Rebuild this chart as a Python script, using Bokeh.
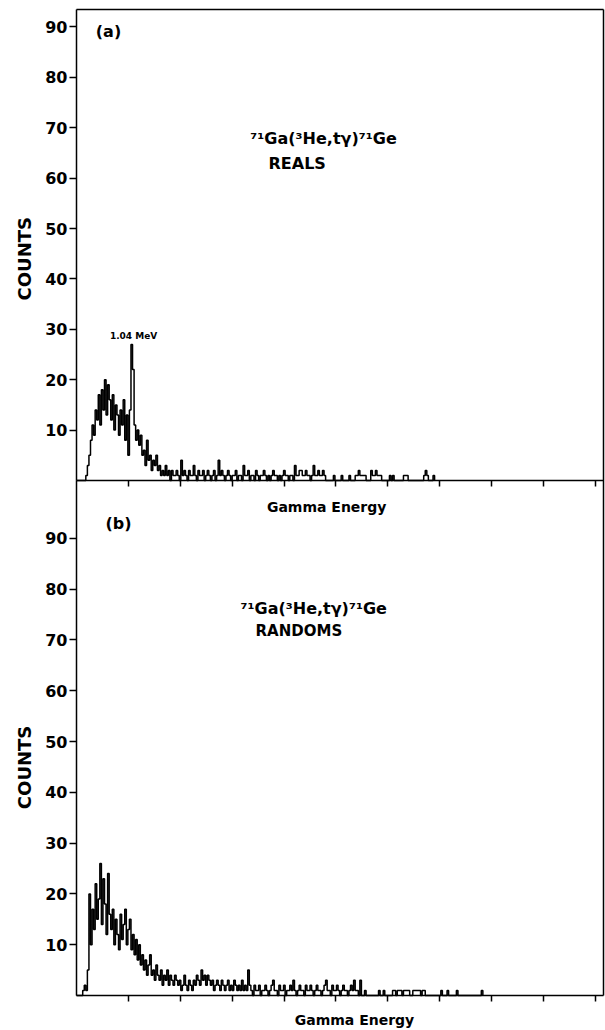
import math
import numpy as np
from bokeh.plotting import figure
from bokeh.models import Range1d, LinearAxis, FixedTicker, Label, ColumnDataSource
from bokeh.embed import file_html
from bokeh.resources import INLINE

# ---------------- data ----------------
BIN_WIDTH = 3  # channels per bin

reals_counts = [
    0, 0, 0, 0, 0, 0, 1, 3, 5, 8,
    11, 9, 14, 12, 17, 11, 18, 14, 20, 13,
    19, 16, 12, 17, 10, 15, 13, 9, 14, 11,
    16, 8, 13, 5, 14, 27, 22, 11, 8, 10,
    7, 9, 5, 6, 3, 8, 4, 5, 2, 4,
    3, 5, 2, 3, 1, 2, 1, 3, 1, 2,
    0, 2, 1, 1, 2, 1, 0, 4, 1, 2,
    1, 0, 2, 1, 1, 3, 1, 0, 2, 1,
    1, 2, 0, 1, 2, 1, 0, 1, 2, 0,
    1, 4, 1, 2, 1, 0, 1, 2, 1, 0,
    1, 1, 2, 0, 1, 1, 0, 3, 1, 1,
    2, 0, 1, 1, 0, 2, 1, 0, 1, 1,
    2, 1, 0, 1, 0, 1, 2, 1, 1, 0,
    1, 0, 1, 2, 1, 1, 0, 1, 1, 0,
    3, 1, 1, 2, 2, 1, 1, 2, 1, 1,
    0, 1, 3, 1, 1, 2, 1, 1, 2, 1,
    0, 0, 0, 0, 0, 1, 0, 0, 0, 0,
    1, 0, 0, 0, 0, 1, 0, 0, 0, 1,
    1, 2, 1, 1, 1, 1, 0, 0, 0, 2,
    1, 1, 2, 1, 1, 1, 0, 0, 0, 0,
    0, 1, 0, 1, 0, 0, 0, 0, 0, 0,
    1, 1, 1, 0, 0, 0, 0, 0, 0, 0,
    0, 0, 0, 1, 2, 1, 0, 0, 0, 1,
    0,
]

randoms_counts = [
    0, 0, 0, 0, 1, 2, 1, 5, 20, 10,
    17, 13, 22, 15, 19, 26, 14, 23, 18, 12,
    24, 16, 13, 17, 10, 15, 12, 9, 16, 11,
    14, 17, 10, 13, 15, 9, 12, 8, 11, 7,
    10, 6, 8, 5, 7, 4, 6, 8, 4, 5,
    3, 6, 4, 3, 5, 2, 4, 3, 5, 2,
    4, 3, 2, 4, 3, 2, 3, 1, 2, 4,
    2, 1, 3, 2, 1, 3, 2, 4, 3, 2,
    5, 3, 4, 2, 4, 3, 2, 3, 1, 2,
    3, 2, 1, 3, 2, 1, 2, 3, 1, 2,
    1, 3, 2, 1, 2, 1, 3, 1, 2, 1,
    5, 2, 1, 0, 2, 1, 1, 2, 0, 1,
    1, 2, 1, 0, 1, 2, 3, 1, 1, 0,
    2, 1, 1, 2, 0, 1, 1, 2, 1, 3,
    1, 0, 1, 2, 1, 1, 0, 2, 1, 1,
    2, 1, 0, 1, 2, 1, 1, 0, 1, 2,
    3, 1, 1, 0, 2, 1, 1, 2, 1, 0,
    1, 2, 1, 1, 0, 1, 2, 1, 3, 1,
    1, 0, 3, 0, 0, 1, 0, 0, 0, 0,
    0, 0, 0, 0, 1, 0, 0, 1, 0, 0,
    0, 0, 0, 1, 1, 0, 1, 1, 1, 0,
    1, 1, 1, 1, 0, 0, 1, 1, 1, 1,
    1, 0, 1, 1, 0, 0, 0, 0, 0, 0,
    0, 0, 0, 0, 1, 0, 0, 0, 1, 0,
    0, 0, 0, 0, 1, 0, 0, 0, 0, 0,
    0, 0, 0, 0, 0, 0, 0, 0, 0, 0,
    1, 0,
]

y_ticks = [10, 20, 30, 40, 50, 60, 70, 80, 90]
x_ticks = [100, 200, 300, 400, 500, 600, 700, 800, 900, 1000]

reaction = "\u2077\u00b9Ga(\u00b3He,t\u03b3)\u2077\u00b9Ge"

# ---------------- figure ----------------
FONT = "DejaVu Sans"
W, H = 605, 1030
X_END = 1015.4      # right edge of the frames (channels)
A_TOP = 93.45       # top of panel (a) frame
B_TOP = 194.1       # top of right frame line in panel (b) units

p = figure(width=W, height=H, output_backend="svg", toolbar_location=None,
           x_range=Range1d(-146.4, 1019.3), y_range=Range1d(-6.89, 195.87),
           x_axis_location=None, y_axis_location=None,
           min_border_left=0, min_border_right=0, min_border_top=0,
           min_border_bottom=0)
p.extra_y_ranges = {"a": Range1d(-109.13, 95.24)}
p.grid.visible = False
p.outline_line_color = None
p.background_fill_color = "white"
p.border_fill_color = "white"


def style_axis(ax, tick_out=7):
    ax.axis_line_color = "black"
    ax.axis_line_width = 1.5
    ax.major_tick_line_color = "black"
    ax.major_tick_line_width = 1.5
    ax.major_tick_in = 0
    ax.major_tick_out = tick_out
    ax.minor_tick_line_color = None
    ax.major_label_text_font = FONT
    ax.major_label_text_font_size = "16px"
    ax.major_label_text_font_style = "bold"
    ax.major_label_text_color = "black"
    ax.major_label_standoff = 2


def bare_axis(ax):
    ax.major_label_text_color = None


# y axis, panel (a)
ya = LinearAxis(y_range_name="a", fixed_location=0, ticker=FixedTicker(ticks=y_ticks),
                bounds=(0, A_TOP))
style_axis(ya)
p.add_layout(ya, "left")

# y axis, panel (b)
yb = LinearAxis(fixed_location=0, ticker=FixedTicker(ticks=y_ticks), bounds=(0, 101.4))
style_axis(yb)
p.add_layout(yb, "left")

# right frame line
yr = LinearAxis(fixed_location=X_END, ticker=FixedTicker(ticks=[]), bounds=(0, B_TOP))
style_axis(yr, 0)
bare_axis(yr)
p.add_layout(yr, "right")

# top frame line
xt = LinearAxis(y_range_name="a", fixed_location=A_TOP, ticker=FixedTicker(ticks=[]),
                bounds=(0, X_END))
style_axis(xt, 0)
bare_axis(xt)
p.add_layout(xt, "above")

# x axis, panel (a)
xa = LinearAxis(y_range_name="a", fixed_location=0, ticker=FixedTicker(ticks=x_ticks),
                bounds=(0, X_END))
style_axis(xa, 6)
bare_axis(xa)
p.add_layout(xa, "below")

# x axis, panel (b)
xb = LinearAxis(fixed_location=0, ticker=FixedTicker(ticks=x_ticks), bounds=(0, X_END))
style_axis(xb, 6)
bare_axis(xb)
p.add_layout(xb, "below")

# ---------------- histograms ----------------
src_a = ColumnDataSource(dict(x=np.arange(len(reals_counts)) * BIN_WIDTH, y=reals_counts))
src_b = ColumnDataSource(dict(x=np.arange(len(randoms_counts)) * BIN_WIDTH, y=randoms_counts))
p.step(x="x", y="y", source=src_a, mode="after", line_color="black", line_width=1.5,
       y_range_name="a")
p.step(x="x", y="y", source=src_b, mode="after", line_color="black", line_width=1.5)


# ---------------- texts ----------------
def add_label(text, x, y, size, rng=None, align="left", baseline="alphabetic",
              style="bold", angle=0):
    kw = dict(x=x, y=y, text=text, text_font=FONT, text_font_size=size,
              text_font_style=style, text_color="black", text_align=align,
              text_baseline=baseline, angle=angle)
    if rng:
        kw["y_range_name"] = rng
    p.add_layout(Label(**kw))


add_label("COUNTS", -100.2, 44.0, "18px", "a", align="center", baseline="middle",
          angle=math.pi / 2)
add_label("COUNTS", -100.2, 44.9, "18px", align="center", baseline="middle",
          angle=math.pi / 2)

add_label("(a)", 61.7, 89.1, "16px", "a", align="center", baseline="middle")
add_label(reaction, 335, 67.9, "16px", "a")
add_label("REALS", 370, 62.9, "16px", "a")
add_label("1.04 MeV", 110, 28.6, "9px", "a", align="center", baseline="middle")
add_label("Gamma Energy", 482, -5.16, "14px", "a", align="center", baseline="middle")

add_label("(b)", 81, 92.9, "16px", align="center", baseline="middle")
add_label(reaction, 316, 76.2, "16px")
add_label("RANDOMS", 345, 71.85, "15px")
add_label("Gamma Energy", 535.6, -4.92, "14px", align="center", baseline="middle")

open("out.html", "w").write(file_html(p, INLINE, "Gamma spectra"))
